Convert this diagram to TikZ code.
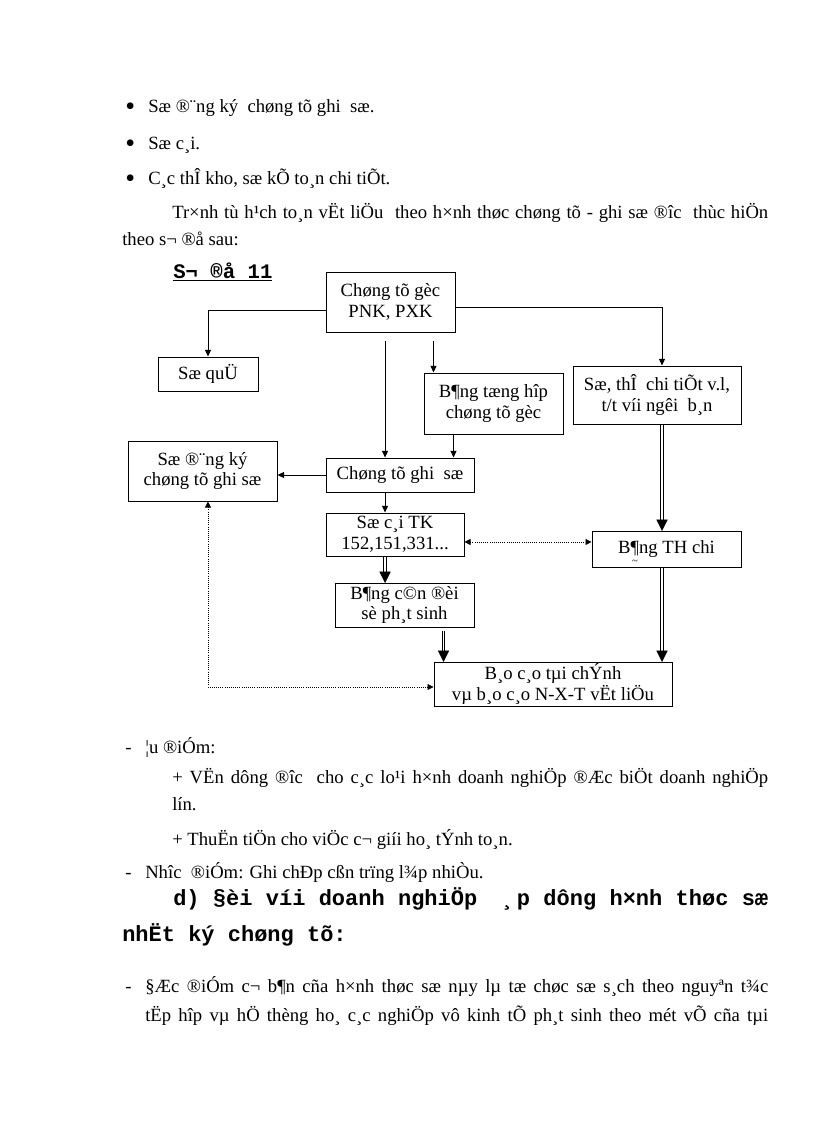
\documentclass[tikz,border=0pt]{standalone}
\usepackage{fontspec}
\setmainfont{Liberation Serif}
\newfontfamily\monofont{Liberation Mono}
\usetikzlibrary{arrows.meta,positioning}

\newcommand{\bigdot}{\raisebox{-1.6pt}{\scalebox{1.5}{\textbullet}}}

\tikzset{
  txt/.style={anchor=base west, inner sep=0pt, font=\fontsize{14}{16.5}\selectfont},
  headtxt/.style={anchor=base west, inner sep=0pt, font=\monofont\bfseries\fontsize{16.5}{20}\selectfont},
  lbltxt/.style={anchor=base west, inner sep=0pt, font=\monofont\bfseries\fontsize{15.5}{18}\selectfont},
  box/.style={draw, line width=0.75pt, align=center, inner sep=1pt, font=\fontsize{14}{15.5}\selectfont},
  arr/.style={line width=0.6pt, -{Triangle[length=5pt,width=4.5pt]}},
  dblline/.style={double, double distance=1pt, line width=0.8pt, shorten >=7.5pt},
  dbltip/.style={fill=black, draw=black, line width=0.3pt, line join=miter},
  dotarr/.style={densely dotted, line width=0.6pt, {Triangle[length=4.5pt,width=4.5pt]}-{Triangle[length=4.5pt,width=4.5pt]}},
}

\begin{document}
\begin{tikzpicture}[x=0.75pt, y=-0.75pt]
  \fill[white] (0,0) rectangle (816,1123);
  \useasboundingbox (0,0) rectangle (816,1123);

  %% text above the chart
  \node[txt] (dot1) at (125,113) {\bigdot};
  \node[txt] (item1) at (148,113) {Sæ ®¨ng ký\ \ chøng tõ ghi\ \ sæ.};
  \node[txt] (dot2) at (125,150) {\bigdot};
  \node[txt] (item2) at (148,150) {Sæ c¸i.};
  \node[txt] (dot3) at (125,185) {\bigdot};
  \node[txt] (item3) at (148,185) {C¸c thÎ kho, sæ kÕ to¸n chi tiÕt.};
  \node[txt] (para1) at (172,219) {\makebox[447pt][s]{Tr×nh tù h¹ch to¸n vËt liÖu\ \ theo h×nh thøc chøng tõ - ghi sæ ®îc\ \ thùc hiÖn}};
  \node[txt] (para2) at (122,245) {theo s¬ ®å sau:};
  \node[lbltxt] (sodo) at (173,278) {\underline{S¬ ®å 11}};

  %% boxes
  \node[box, minimum width=96.75pt, minimum height=45pt] (goc) at (390.5,302) {Chøng tõ gèc\\PNK, PXK};
  \node[box, minimum width=75pt, minimum height=25.5pt] (quy) at (208,374) {Sæ quÜ};
  \node[box, minimum width=104.25pt, minimum height=45.75pt] (tonghop) at (493.5,403.5) {B¶ng tæng hîp\\chøng tõ gèc};
  \node[box, minimum width=126pt, minimum height=43.5pt] (chitiet) at (657,395) {Sæ, thÎ\ \ chi tiÕt v.l,\\t/t víi ngêi\ \ b¸n};
  \node[box, minimum width=111.75pt, minimum height=45pt] (dangky) at (202.5,471) {Sæ ®¨ng ký\\chøng tõ ghi sæ};
  \node[box, minimum width=111pt, minimum height=25.5pt] (ctgs) at (400,475) {Chøng tõ ghi\ \ sæ};
  \node[box, minimum width=103.5pt, minimum height=32.25pt] (socai) at (395,534.5) {Sæ c¸i TK\\152,151,331...};
  \node[box, minimum width=111.75pt, minimum height=27pt] (thchi) at (666.5,549) {B¶\llap{\raisebox{-1.3ex}[0pt][0pt]{\fontsize{8}{8}\selectfont\textasciitilde}\kern1pt}ng TH chi};
  \node[box, minimum width=104.25pt, minimum height=33pt] (candoi) at (404.5,605) {B¶ng c©n ®èi\\sè ph¸t sinh};
  \node[box, minimum width=178.5pt, minimum height=33pt] (baocao) at (553,684) {B¸o c¸o tµi chÝnh\\vµ b¸o c¸o N-X-T vËt liÖu};

  %% free ends
  \coordinate (gocL) at ([xshift=-4.1pt,yshift=-6pt]goc.south);
  \coordinate (gocR) at ([xshift=7.5pt,yshift=-6pt]goc.south -| tonghop.west);
  \coordinate (thB) at ([xshift=22.5pt]tonghop.south west);
  \coordinate (rx) at ([xshift=3.75pt]chitiet.south);
  \coordinate (cdB) at ([xshift=7.5pt,yshift=-2.25pt]candoi.south -| baocao.west);
  \coordinate (scS) at (gocL |- socai.south);
  \coordinate (cdN) at (gocL |- candoi.north);
  \coordinate (bcL) at (cdB |- baocao.north);
  \coordinate (thN) at (rx |- thchi.north);
  \coordinate (thS) at (rx |- thchi.south);
  \coordinate (bcR) at (rx |- baocao.north);

  %% connectors
  \draw[arr] ([yshift=-6pt]goc.west) -| (quy.north);
  \draw[arr] ([yshift=-3.75pt]goc.east) -| (rx |- chitiet.north);
  \draw[arr] (gocL) -- (gocL |- ctgs.north);
  \draw[arr] (gocR) -- (gocR |- tonghop.north);
  \draw[arr] (thB) -- (thB |- ctgs.north);
  \draw[arr] (ctgs.west) -- (ctgs.west -| dangky.east);
  \draw[arr] (gocL |- ctgs.south) -- (gocL |- socai.north);
  \foreach \s/\e in {scS/cdN, cdB/bcL, rx/thN, thS/bcR} {
    \draw[dblline] (\s) -- (\e);
    \path[dbltip] ([xshift=-4pt,yshift=8pt]\e) -- ([xshift=4pt,yshift=8pt]\e) -- (\e) -- cycle;
  }
  \draw[dotarr] ([yshift=-5.6pt]socai.east) -- ([yshift=-5.6pt]socai.east -| thchi.west);
  \draw[dotarr] ([xshift=4.1pt]dangky.south) |- ([yshift=-2.25pt]baocao.west);

  %% text below the chart
  \node[txt] (dash1) at (125,753) {-};
  \node[txt] (adv) at (145,753) {¦u ®iÓm:};
  \node[txt] (adv1) at (172,783) {\makebox[447pt][s]{+ VËn dông ®îc\ \ cho c¸c lo¹i h×nh doanh nghiÖp ®Æc biÖt doanh nghiÖp}};
  \node[txt] (adv1b) at (172,810) {lín.};
  \node[txt] (adv2) at (172,845) {+ ThuËn tiÖn cho viÖc c¬ giíi ho¸ tÝnh to¸n.};
  \node[txt] (dash2) at (125,878) {-};
  \node[txt] (disadv) at (145,878) {Nhîc\ \ ®iÓm: Ghi chÐp cßn trïng l¾p nhiÒu.};
  \node[headtxt] (head1) at (173,905) {\makebox[446.25pt]{d)\hfill §èi\hfill víi\hfill doanh\hfill nghiÖp\hfill \ ¸p\hfill dông\hfill h×nh\hfill thøc\hfill sæ}};
  \node[headtxt] (head2) at (122,941) {nhËt ký chøng tõ:};
  \node[txt] (dash3) at (125,992) {-};
  \node[txt] (feat1) at (145,992) {\makebox[467.25pt][s]{§Æc ®iÓm c¬ b¶n cña h×nh thøc sæ nµy lµ tæ chøc sæ s¸ch theo nguyªn t¾c}};
  \node[txt] (feat2) at (145,1021) {\makebox[467.25pt][s]{tËp hîp vµ hÖ thèng ho¸ c¸c nghiÖp vô kinh tÕ ph¸t sinh theo mét vÕ cña tµi}};
\end{tikzpicture}
\end{document}
